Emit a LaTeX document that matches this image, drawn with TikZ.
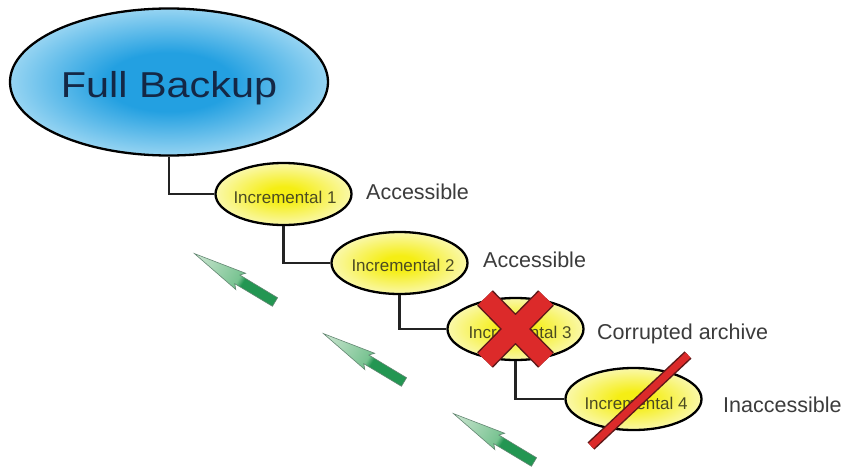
\documentclass[tikz,border=0pt]{standalone}
\usepackage{fontspec}
\usepackage{graphicx}
\setmainfont{Liberation Sans}
\usetikzlibrary{shapes.geometric}
\definecolor{fbtext}{RGB}{20,40,70}
\definecolor{inctext}{RGB}{75,75,35}
\definecolor{lbltext}{RGB}{60,60,60}
\definecolor{blueA}{RGB}{35,160,225}
\definecolor{blueB}{RGB}{150,212,242}
\definecolor{yelA}{RGB}{245,238,20}
\definecolor{yelB}{RGB}{250,248,170}
\definecolor{xred}{RGB}{220,42,42}
\definecolor{xdark}{RGB}{95,25,25}
\definecolor{grDark}{RGB}{35,150,82}
\definecolor{grMid}{RGB}{120,195,145}
\definecolor{grLight}{RGB}{205,230,210}
\definecolor{grEdge}{RGB}{100,135,115}
\definecolor{linec}{RGB}{35,35,35}
\pgfdeclareradialshading{blueshade}{\pgfpoint{0bp}{0bp}}{color(0bp)=(blueA); color(10bp)=(blueA); color(25bp)=(blueB); color(50bp)=(blueB)}
\pgfdeclareradialshading{yelshade}{\pgfpoint{0bp}{0bp}}{color(0bp)=(yelA); color(6bp)=(yelA); color(25bp)=(yelB); color(50bp)=(yelB)}
\pgfdeclarehorizontalshading{grshade}{100bp}{color(0bp)=(grDark); color(25bp)=(grDark); color(45bp)=(grDark); color(48bp)=(grMid); color(75bp)=(grLight); color(100bp)=(grLight)}
\tikzset{
  fullbk/.style={ellipse, draw=black, line width=2.3pt, shade, shading=blueshade,
    minimum width=318pt, minimum height=147pt, inner sep=0pt},
  incbox/.style={ellipse, draw=black, line width=2.3pt, shade, shading=yelshade,
    minimum width=136pt, minimum height=62pt, inner sep=0pt},
  fbtxt/.style={inner sep=0pt, text depth=0pt, font=\fontsize{36}{40}\selectfont, text=fbtext},
  inctxt/.style={inner sep=0pt, text depth=0pt, font=\fontsize{17}{20}\selectfont, text=inctext},
  status/.style={anchor=west, inner sep=0pt, text depth=0pt, font=\fontsize{21.5}{24}\selectfont, text=lbltext},
  link/.style={draw=linec, line width=2.4pt},
  greenarrow/.style={shade, shading=grshade, draw=grEdge, line width=0.6pt},
}
\begin{document}
\begin{tikzpicture}[x=1pt,y=-1pt]
\useasboundingbox[fill=white] (0,0) rectangle (846,466);

% ellipses
\node[fullbk] (fb) at (169,82) {};
\node[incbox] (i1) at (283.5,194) {};
\node[incbox] (i2) at (399.5,263) {};
\node[incbox] (i3) at (515.5,329) {};
\node[incbox] (i4) at (633.5,399) {};

% connectors
\draw[link] (fb.south) |- (i1.west);
\draw[link] (i1.south) |- (i2.west);
\draw[link] (i2.south) |- (i3.west);
\draw[link] (i3.south) |- (i4.west);

% texts
\node[fbtxt] (fbt) at (169,84.5) {\scalebox{1.15}[1]{Full Backup}};
\node[inctxt] (t1) at (285,197) {Incremental 1};
\node[inctxt] (t2) at (403,265) {Incremental 2};
\node[inctxt] (t3) at (520,332) {Incremental 3};
\node[inctxt] (t4) at (636,403) {Incremental 4};

\node[status] (s1) at (366,192) {Accessible};
\node[status] (s2) at (483,260) {Accessible};
\node[status] (s3) at (597,332) {Corrupted archive};
\node[status] (s4) at (723,405) {Inaccessible};

% red cross over incremental 3
\draw[xdark, line width=22pt] (485,298) -- (546,360) (546,298) -- (485,360);
\draw[xred, line width=19pt] (485,298) -- (546,360) (546,298) -- (485,360);

% red slash over incremental 4
\draw[xdark, line width=10pt] (591,446) -- (688,355);
\draw[xred, line width=7pt] (591,446) -- (688,355);

% green arrows
\foreach \tx/\ty in {275/302, 404/382, 534/462} {
  \begin{scope}[transform canvas={shift={(\tx,\ty)}, rotate=149}]
    \path[greenarrow] (0,-5) -- (44,-5) -- (40,-9.5) -- (94,0) -- (40,9.5) -- (44,5) -- (0,5) -- cycle;
  \end{scope}
}
\end{tikzpicture}
\end{document}
